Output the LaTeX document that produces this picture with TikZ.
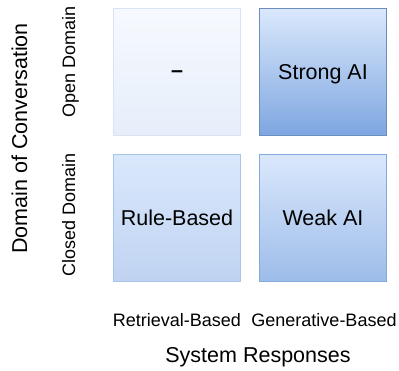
\documentclass[tikz,border=0pt]{standalone}
\usepackage{fontspec}
\setmainfont{Liberation Sans}
\usetikzlibrary{positioning}
\definecolor{paleTop}{HTML}{F6F9FE}
\definecolor{paleBot}{HTML}{E6EEFA}
\definecolor{paleLine}{HTML}{D8E3F4}
\definecolor{blueTop}{HTML}{DAE8FC}
\definecolor{lightBot}{HTML}{BFD3F1}
\definecolor{lightLine}{HTML}{A9C4EB}
\definecolor{midBot}{HTML}{9DBCE9}
\definecolor{midLine}{HTML}{86A9DD}
\definecolor{deepBot}{HTML}{7EA6E0}
\definecolor{deepLine}{HTML}{6C8EBF}
\begin{document}
\begin{tikzpicture}[
			x=1pt, y=1pt,
			cell/.style={minimum width=127pt, minimum height=127pt, inner sep=0pt,
				line width=1pt, text height=15.4pt, text depth=0pt,
				font=\fontsize{21.5}{24}\selectfont},
			empty/.style={cell, draw=paleLine, top color=paleTop, bottom color=paleBot},
			rule/.style={cell, draw=lightLine, top color=blueTop, bottom color=lightBot},
			weak/.style={cell, draw=midLine, top color=blueTop, bottom color=midBot},
			strong/.style={cell, draw=deepLine, top color=blueTop, bottom color=deepBot},
			small/.style={anchor=base, font=\fontsize{18}{20}\selectfont},
			big/.style={anchor=base, font=\fontsize{21.5}{24}\selectfont}
			]
			\useasboundingbox (0,0) rectangle (399,371);
			% the four quadrants
			\node[empty] (openret) at (177,299) {\raisebox{2.5pt}{\textbf{--}}};
			\node[strong, right=18pt of openret] (opengen) {Strong AI};
			\node[rule, below=18pt of openret] (closedret) {Rule-Based};
			\node[weak, below=18pt of opengen] (closedgen) {Weak AI};
			% axis labels
			\node[small] (retlab) at (177,44) {Retrieval-Based};
			\node[small] (genlab) at (324,44) {Generative-Based};
			\node[big] (xaxis) at (258,8) {System Responses};
			\node[small, rotate=90] (openlab) at (75,309) {Open Domain};
			\node[small, rotate=90] (closedlab) at (75,156) {Closed Domain};
			\node[big, rotate=90] (yaxis) at (27,232.5) {Domain of Conversation};
		\end{tikzpicture}
\end{document}
